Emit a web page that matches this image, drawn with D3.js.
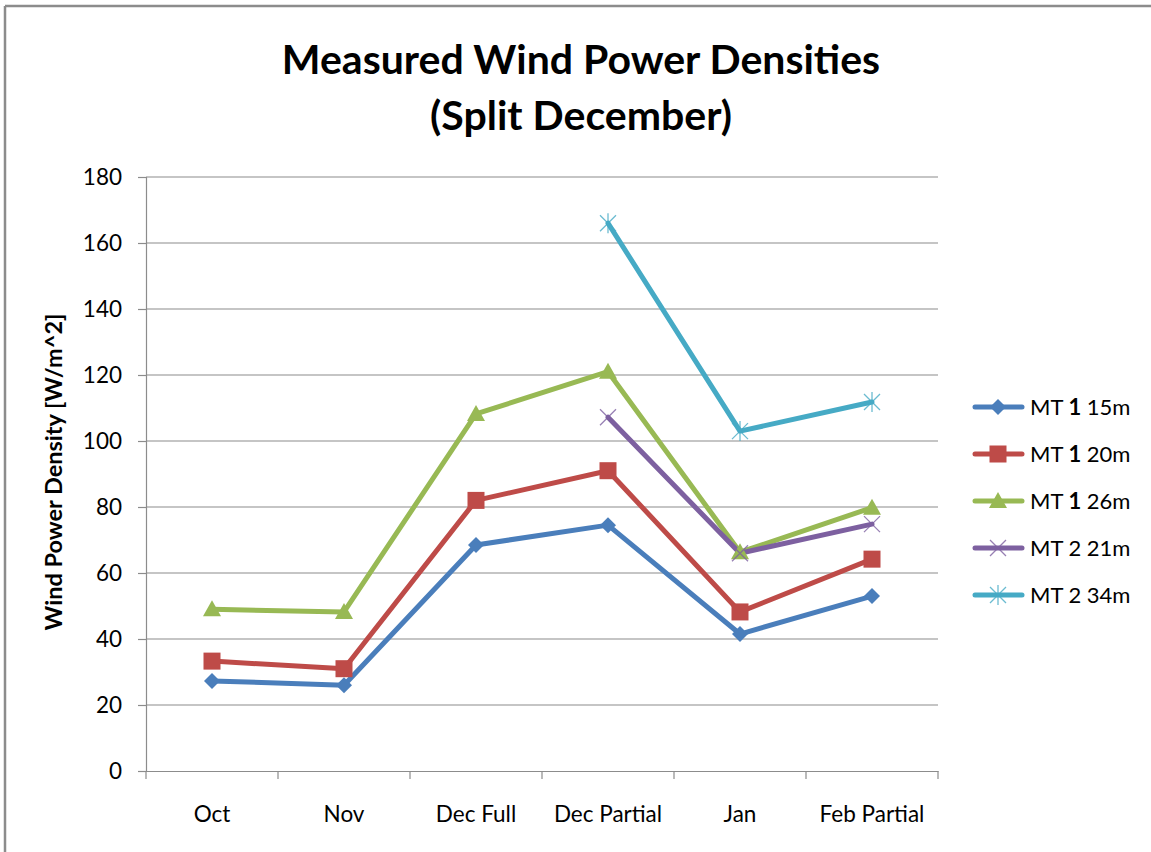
<!DOCTYPE html>
<html>
<head>
<meta charset="utf-8">
<script src="https://cdn.jsdelivr.net/npm/d3@7"></script>
<style>
  html, body { margin: 0; padding: 0; background: #fff; }
  svg { display: block; }
  text { font-family: Lato, "Open Sans", sans-serif; fill: #000; }
</style>
</head>
<body>
<svg id="chart" width="1151" height="852"></svg>
<script>
// ---- data ----
const categories = ["Oct", "Nov", "Dec Full", "Dec Partial", "Jan", "Feb Partial"];
const mt1_15m = [27.3, 26.0, 68.5, 74.5, 41.5, 53.0];
const mt1_20m = [33.3, 31.0, 82.0, 91.0, 48.2, 64.2];
const mt1_26m = [49.0, 48.2, 108.2, 121.0, 66.3, 79.8];
const mt2_21m = [null, null, null, 107.2, 66.0, 74.8];
const mt2_34m = [null, null, null, 166.0, 103.0, 111.8];
const seriesNames = [["MT ", "1", " 15m"], ["MT ", "1", " 20m"], ["MT ", "1", " 26m"], ["MT 2 21m", "", ""], ["MT 2 34m", "", ""]];
const yTicks = [0, 20, 40, 60, 80, 100, 120, 140, 160, 180];

const series = [
  { values: mt1_15m, color: "#4a7ebb", marker: "diamond" },
  { values: mt1_20m, color: "#be4b48", marker: "square" },
  { values: mt1_26m, color: "#98b954", marker: "triangle" },
  { values: mt2_21m, color: "#7d60a0", marker: "x" },
  { values: mt2_34m, color: "#46aac5", marker: "star" }
];

const svg = d3.select("#chart");

// outer frame
svg.append("line").attr("x1", 5).attr("x2", 1151).attr("y1", 6).attr("y2", 6).attr("stroke", "#8c8c8c").attr("stroke-width", 2.5);
svg.append("line").attr("x1", 5).attr("x2", 5).attr("y1", 6).attr("y2", 852).attr("stroke", "#8c8c8c").attr("stroke-width", 2.5);

const pL = 146, pR = 938, pT = 177, pB = 771;
const x = d3.scaleBand().domain(categories).range([pL, pR]).padding(0);
const y = d3.scaleLinear().domain([0, 180]).range([pB, pT]);

// gridlines
svg.append("g").selectAll("line").data(yTicks.filter(d => d > 0)).join("line")
  .attr("x1", pL).attr("x2", pR)
  .attr("y1", d => y(d)).attr("y2", d => y(d))
  .attr("stroke", "#8c8c8c").attr("stroke-width", 1.2);

// y axis
const yAxis = svg.append("g").attr("transform", `translate(${pL},0)`)
  .call(d3.axisLeft(y).tickValues(yTicks).tickSize(8).tickPadding(16));
yAxis.select(".domain").attr("stroke", "#8c8c8c").attr("stroke-width", 1.2);
yAxis.selectAll(".tick line").attr("stroke", "#8c8c8c").attr("stroke-width", 1.2);
yAxis.selectAll("text").attr("font-size", 22.5).attr("font-family", "Lato, sans-serif").attr("fill", "#000");

// x axis
const xAxis = svg.append("g").attr("transform", `translate(0,${pB})`)
  .call(d3.axisBottom(x).tickSize(0).tickPadding(35));
xAxis.select(".domain").attr("stroke", "#8c8c8c").attr("stroke-width", 1.2);
xAxis.selectAll("text").attr("font-size", 22.5).attr("font-family", "Lato, sans-serif").attr("fill", "#000");
// category boundary ticks
const bounds = categories.map(c => x(c)).concat([pR]);
svg.append("g").selectAll("line").data(bounds).join("line")
  .attr("x1", d => d).attr("x2", d => d).attr("y1", pB).attr("y2", pB + 8)
  .attr("stroke", "#8c8c8c").attr("stroke-width", 1.2);

// title
svg.append("text").attr("x", 581).attr("y", 74).attr("text-anchor", "middle")
  .attr("font-size", 41).attr("font-weight", "bold").text("Measured Wind Power Densities");
svg.append("text").attr("x", 581).attr("y", 130).attr("text-anchor", "middle")
  .attr("font-size", 41).attr("font-weight", "bold").text("(Split December)");

// y label
svg.append("text").attr("transform", `translate(62,${(pT + pB) / 2 - 2}) rotate(-90)`)
  .attr("text-anchor", "middle").attr("font-size", 23.5).attr("font-weight", "bold")
  .text("Wind Power Density [W/m^2]");

const cx = c => x(c) + x.bandwidth() / 2;

function drawMarker(g, type, color) {
  if (type === "diamond") {
    g.append("path").attr("d", "M0,-8L8,0L0,8L-8,0Z").attr("fill", color);
  } else if (type === "square") {
    g.append("rect").attr("x", -8.5).attr("y", -8.5).attr("width", 17).attr("height", 17).attr("fill", color);
  } else if (type === "triangle") {
    g.append("path").attr("d", "M0,-9L9,7L-9,7Z").attr("fill", color);
  } else if (type === "x") {
    g.append("path").attr("d", "M-8,-8L8,8M-8,8L8,-8").attr("stroke", color).attr("stroke-width", 1.3).attr("fill", "none").attr("opacity", 0.8);
  } else if (type === "star") {
    g.append("path").attr("d", "M-8,-8L8,8M-8,8L8,-8M0,-10L0,10").attr("stroke", color).attr("stroke-width", 1.3).attr("fill", "none").attr("opacity", 0.8);
  }
}

const line = d3.line()
  .defined(d => d.v !== null)
  .x(d => cx(d.c)).y(d => y(d.v));

series.forEach(s => {
  const pts = categories.map((c, i) => ({ c, v: s.values[i] }));
  svg.append("path").datum(pts).attr("d", line)
    .attr("fill", "none").attr("stroke", s.color).attr("stroke-width", 5)
    .attr("stroke-linejoin", "round").attr("stroke-linecap", "round");
});
series.forEach(s => {
  categories.forEach((c, i) => {
    const v = s.values[i];
    if (v === null) return;
    const g = svg.append("g").attr("transform", `translate(${cx(c)},${y(v)})`);
    drawMarker(g, s.marker, s.color);
  });
});

// legend
const legY0 = 407, legStep = 47;
series.forEach((s, i) => {
  const ly = legY0 + i * legStep;
  svg.append("line").attr("x1", 975).attr("x2", 1022).attr("y1", ly).attr("y2", ly)
    .attr("stroke", s.color).attr("stroke-width", 5).attr("stroke-linecap", "round");
  const g = svg.append("g").attr("transform", `translate(998,${ly})`);
  drawMarker(g, s.marker, s.color);
  const t = svg.append("text").attr("x", 1030).attr("y", ly + 8).attr("font-size", 22);
  const parts = seriesNames[i];
  t.append("tspan").text(parts[0]);
  if (parts[1]) t.append("tspan").attr("font-weight", "bold").text(parts[1]);
  if (parts[2]) t.append("tspan").text(parts[2]);
});
</script>
</body>
</html>
